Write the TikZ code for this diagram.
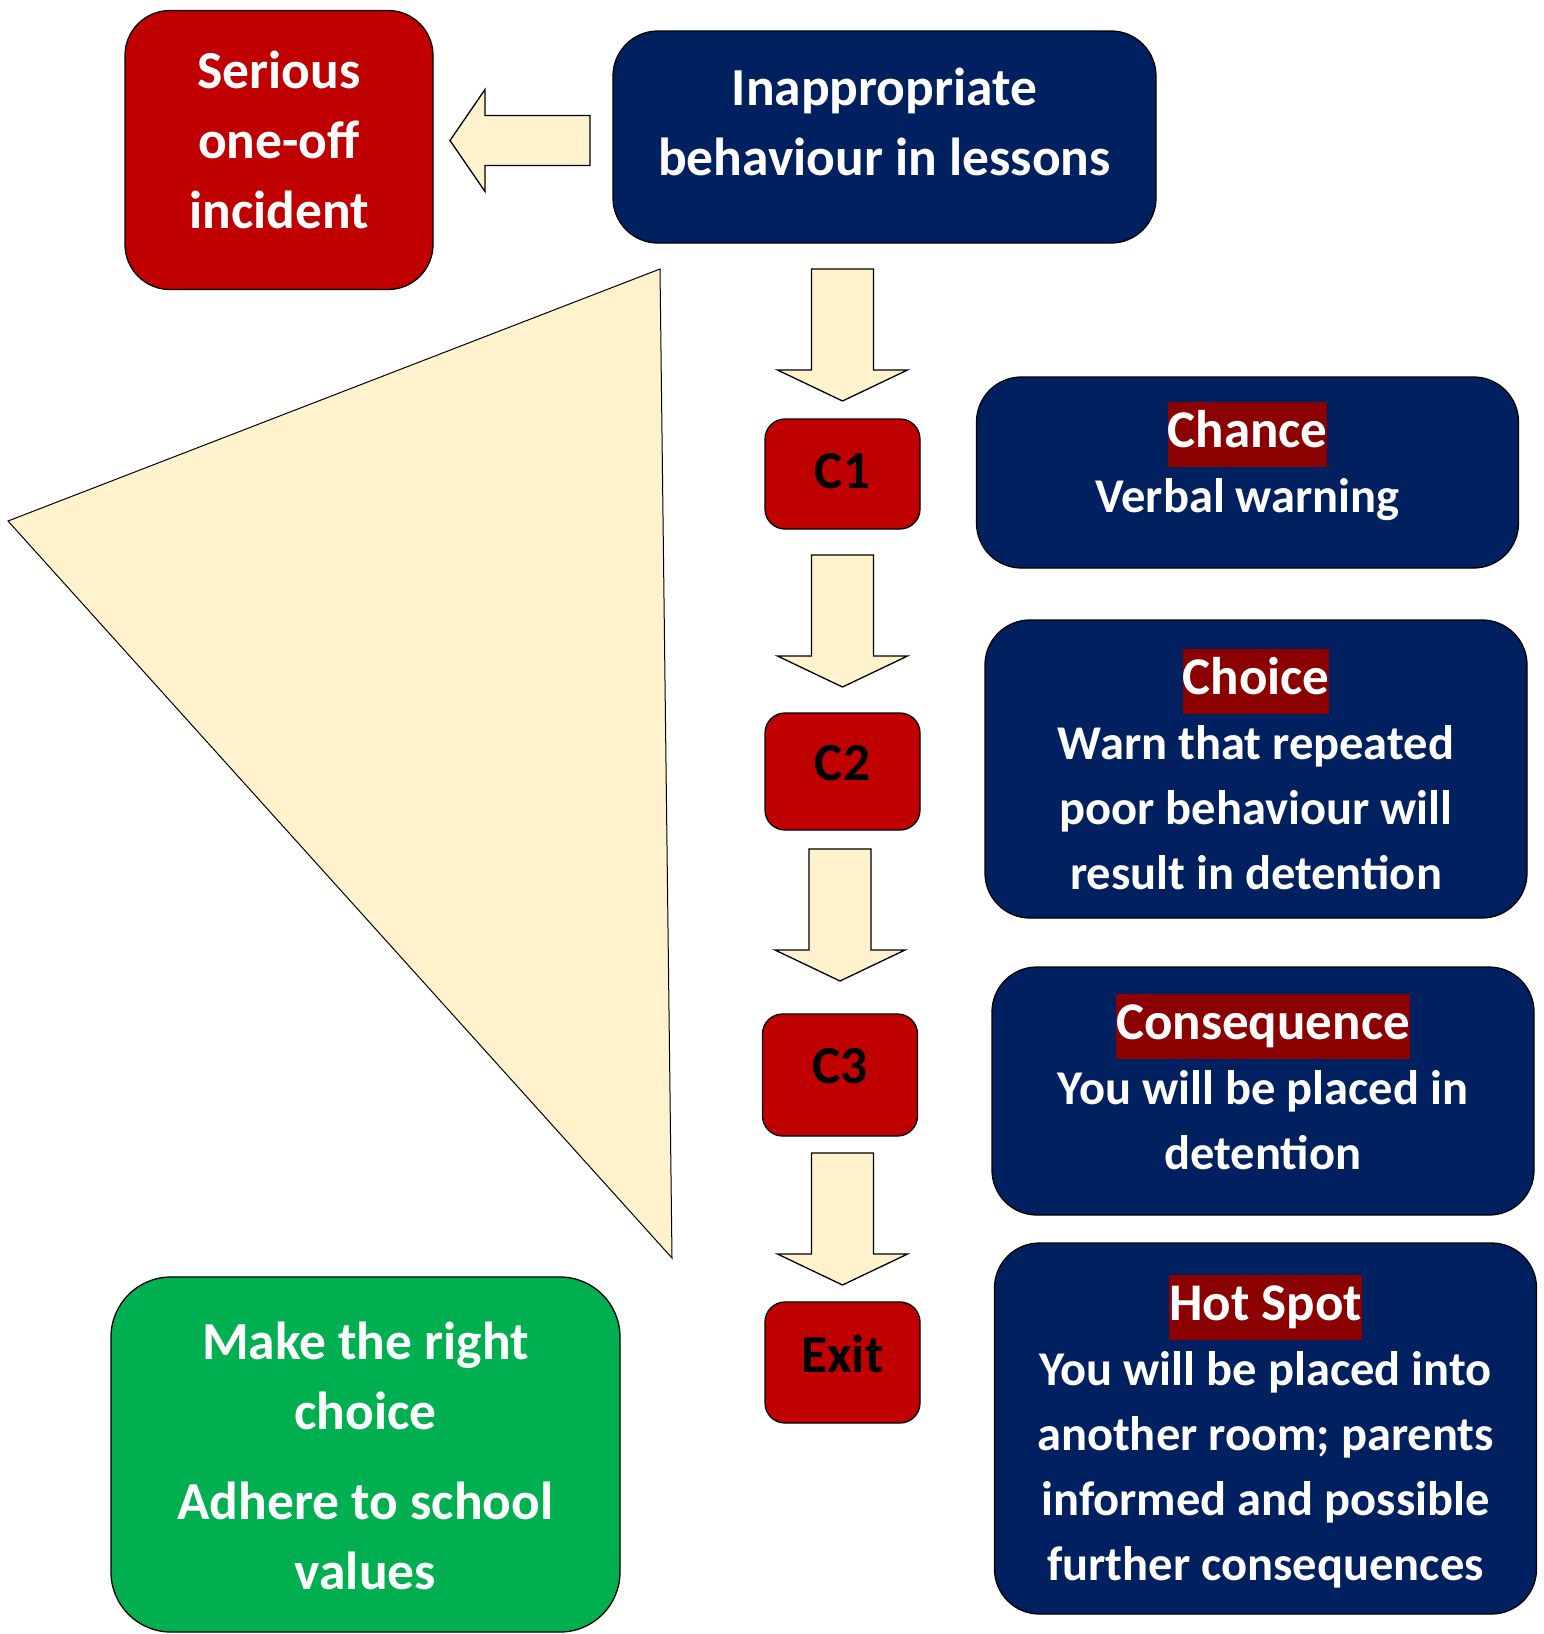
\documentclass[tikz,border=0pt]{standalone}
\usepackage{fontspec}
\setmainfont{Carlito}
\usetikzlibrary{calc}
\definecolor{navy}{HTML}{002060}
\definecolor{crimson}{HTML}{C00000}
\definecolor{leaf}{HTML}{00B050}
\definecolor{cream}{HTML}{FFF2CC}
\definecolor{hlred}{HTML}{8B0000}
\newcommand{\hilite}[1]{{\fontsize{53}{65}\selectfont\setlength{\fboxsep}{0pt}\colorbox{hlred}{\strut#1}}}

\begin{document}
\begin{tikzpicture}[x=1pt,y=-1pt,box/.style={draw=black,line width=1.3pt,inner sep=0pt},bluebox/.style={box,fill=navy,rounded corners=45pt,minimum width=542pt},redbox/.style={box,fill=crimson,rounded corners=45pt},cbox/.style={box,fill=crimson,rounded corners=20pt,minimum width=155pt},greenbox/.style={box,fill=leaf,rounded corners=60pt},bigtxt/.style={text=white,align=center,inner sep=0pt,font=\fontsize{53.5}{70}\selectfont\bfseries},smalltxt/.style={bigtxt,font=\fontsize{48.5}{65}\selectfont\bfseries},ctxt/.style={bigtxt,text=black},blockarr/.style={draw=black,line width=1.3pt,fill=cream}]
\useasboundingbox (0,0) rectangle (1544,1634);
\draw[blockarr,line width=1pt] (660,269) -- (8,521) -- (672,1258) -- cycle;
% boxes
\node[redbox,minimum width=308pt,minimum height=279pt] (serious) at (279,150) {};
\node[bluebox,minimum width=543pt,minimum height=212pt] (inap) at (884.5,137) {};
\node[cbox,minimum height=110pt] (c1) at (842.5,474) {};
\node[cbox,minimum height=117pt] (c2) at (842.5,771.5) {};
\node[cbox,minimum height=122pt] (c3) at (840,1075) {};
\node[cbox,minimum height=121pt] (exit) at (842.5,1362.5) {};
\node[bluebox,minimum height=191pt] (chance) at (1247.5,472.5) {};
\node[bluebox,minimum height=298pt] (choice) at (1256,769) {};
\node[bluebox,minimum height=248pt] (conseq) at (1263,1091) {};
\node[bluebox,minimum height=371pt] (hotspot) at (1265.5,1428.5) {};
\node[greenbox,minimum width=509pt,minimum height=355pt] (right) at (365.5,1454.5) {};
% texts
\node[bigtxt] (serioustxt) at ($(serious)+(0,-10)$) {Serious\\one-off\\incident};
\node[bigtxt] (inaptxt) at ($(inap)+(0,-15)$) {Inappropriate\\behaviour in lessons};
\node[ctxt] (c1txt) at ($(c1)+(0,-3)$) {C1};
\node[ctxt] (c2txt) at ($(c2)+(0,-8)$) {C2};
\node[ctxt] (c3txt) at ($(c3)+(0,-9)$) {C3};
\node[ctxt] (exittxt) at ($(exit)+(0,-9)$) {Exit};
\node[smalltxt] (chancetxt) at ($(chance)+(0,-11)$) {\hilite{Chance}\\Verbal warning};
\node[smalltxt] (choicetxt) at (choice) {\hilite{Choice}\\Warn that repeated\\poor behaviour will\\result in detention};
\node[smalltxt] (conseqtxt) at ($(conseq)+(0,-9)$) {\hilite{Consequence}\\You will be placed in\\detention};
\node[smalltxt] (hotspottxt) at ($(hotspot)+(0,3)$) {\hilite{Hot Spot}\\You will be placed into\\another room; parents\\informed and possible\\further consequences};
\node[bigtxt] (righttxt) at ($(right)+(0,1)$) {Make the right\\choice\\[20pt]Adhere to school\\values};
% arrows
\draw[blockarr,shift={($(inap.west)!0.5!(serious.east)$)}] (67,-28) -- (-38,-28) -- (-38,-54) -- (-73,-3) -- (-38,48) -- (-38,22) -- (67,22) -- cycle;
\foreach \s/\t/\dy in {inap/c1/4,c1/c2/0,c2/c3/-7,c3/exit/0}
  \draw[blockarr,shift={($(\t.north)!0.5!(\t.north |- \s.south)+(0,\dy)$)}] (-31,-66) -- (31,-66) -- (31,35) -- (65,35) -- (0,66) -- (-65,35) -- (-31,35) -- cycle;
\end{tikzpicture}
\end{document}
